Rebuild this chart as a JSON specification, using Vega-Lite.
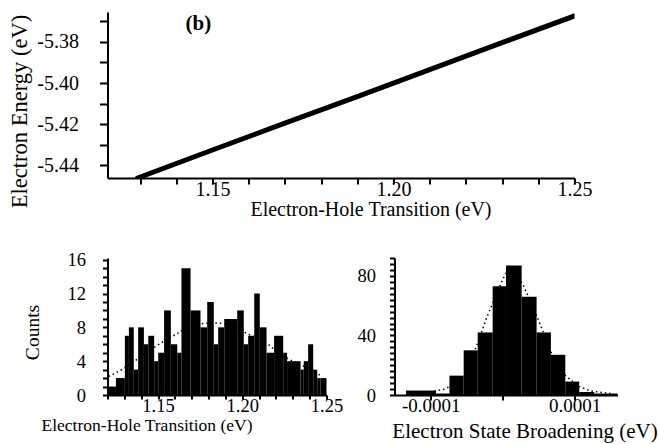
{
  "$schema": "https://vega.github.io/schema/vega-lite/v6.json",
  "background": "white",
  "padding": {"left": 8.5, "top": 11, "right": 16, "bottom": 3},
  "config": {
    "view": {"stroke": null},
    "font": "Liberation Serif",
    "axis": {
      "domainColor": "black", "domainWidth": 2,
      "ticks": true, "tickColor": "black", "tickWidth": 2, "tickOpacity": 1,
      "labelColor": "black", "labelFont": "Liberation Serif", "titleFont": "Liberation Serif",
      "titleFontWeight": "normal", "titleColor": "black", "grid": false, "tickCount": 100,
      "labelOverlap": false, "labelFlush": false, "labelBound": false
    }
  },
  "bounds": "flush",
  "spacing": 80,
  "vconcat": [
    {
      "width": 467,
      "height": 166,
      "layer": [
        {
          "data": {"values": [
            {"transition": 1.1293, "energy": -5.4461},
            {"transition": 1.15, "energy": -5.4325},
            {"transition": 1.17, "energy": -5.4195},
            {"transition": 1.19, "energy": -5.4066},
            {"transition": 1.21, "energy": -5.3935},
            {"transition": 1.23, "energy": -5.3804},
            {"transition": 1.25, "energy": -5.3674}
          ]},
          "mark": {"type": "line", "color": "black", "strokeWidth": 5, "strokeCap": "round", "clip": true},
          "encoding": {
            "x": {
              "field": "transition", "type": "quantitative",
              "scale": {"domain": [1.121, 1.25], "nice": false, "zero": false},
              "axis": {
                "title": "Electron-Hole Transition (eV)",
                "values": [1.13, 1.14, 1.15, 1.16, 1.17, 1.18, 1.19, 1.2, 1.21, 1.22, 1.23, 1.24, 1.25],
                "labelExpr": "round(datum.value*100) % 5 == 0 ? format(datum.value,'.2f') : ''",
                "tickCount": 100, "labelOverlap": false,
                "ticks": true, "tickColor": "black", "tickWidth": 2, "tickOpacity": 1,
                "tickSize": 6, "labelPadding": -5, "labelFontSize": 20,
                "titleFontSize": 20, "titlePadding": 0.5, "titleX": 263
              }
            },
            "y": {
              "field": "energy", "type": "quantitative",
              "scale": {"domain": [-5.4461, -5.3655], "nice": false, "zero": false},
              "axis": {
                "title": "Electron Energy (eV)",
                "values": [-5.44, -5.43, -5.42, -5.41, -5.4, -5.39, -5.38, -5.37],
                "labelExpr": "abs(round(datum.value*100)) % 2 == 0 ? replace(format(datum.value,'.2f'),'\u2212','-') : ''",
                "tickCount": 100, "labelOverlap": false,
                "ticks": true, "tickColor": "black", "tickWidth": 2, "tickOpacity": 1,
                "tickSize": 8, "labelPadding": 21, "labelFontSize": 20,
                "titleFontSize": 22.5, "titlePadding": 5, "titleY": 99
              }
            }
          }
        },
        {
          "data": {"values": [{"transition": 1.1461, "energy": -5.3713, "label": "(b)"}]},
          "mark": {"type": "text", "font": "Liberation Serif", "fontWeight": "bold", "fontSize": 21, "color": "black", "align": "center", "baseline": "middle"},
          "encoding": {
            "x": {"field": "transition", "type": "quantitative"},
            "y": {"field": "energy", "type": "quantitative"},
            "text": {"field": "label"}
          }
        }
      ]
    },
    {
      "bounds": "flush",
      "spacing": 68,
      "hconcat": [
        {
          "width": 219,
          "height": 137,
          "layer": [
            {
              "data": {"values": [
                {"x0": 1.1204, "x1": 1.1250, "count": 1},
                {"x0": 1.1250, "x1": 1.1303, "count": 2},
                {"x0": 1.1303, "x1": 1.1327, "count": 7},
                {"x0": 1.1327, "x1": 1.1356, "count": 8},
                {"x0": 1.1356, "x1": 1.1382, "count": 3},
                {"x0": 1.1382, "x1": 1.1416, "count": 8},
                {"x0": 1.1416, "x1": 1.1442, "count": 6},
                {"x0": 1.1442, "x1": 1.1477, "count": 7},
                {"x0": 1.1477, "x1": 1.1501, "count": 4},
                {"x0": 1.1501, "x1": 1.1536, "count": 5},
                {"x0": 1.1536, "x1": 1.1576, "count": 10},
                {"x0": 1.1576, "x1": 1.1614, "count": 6},
                {"x0": 1.1614, "x1": 1.1639, "count": 5},
                {"x0": 1.1639, "x1": 1.1693, "count": 15},
                {"x0": 1.1693, "x1": 1.1752, "count": 10},
                {"x0": 1.1752, "x1": 1.1792, "count": 8},
                {"x0": 1.1792, "x1": 1.1831, "count": 11},
                {"x0": 1.1831, "x1": 1.1857, "count": 6},
                {"x0": 1.1857, "x1": 1.1893, "count": 8},
                {"x0": 1.1893, "x1": 1.1970, "count": 9},
                {"x0": 1.1970, "x1": 1.2009, "count": 10},
                {"x0": 1.2009, "x1": 1.2035, "count": 6},
                {"x0": 1.2035, "x1": 1.2071, "count": 7},
                {"x0": 1.2071, "x1": 1.2104, "count": 12},
                {"x0": 1.2104, "x1": 1.2144, "count": 8},
                {"x0": 1.2144, "x1": 1.2189, "count": 5},
                {"x0": 1.2189, "x1": 1.2243, "count": 7},
                {"x0": 1.2243, "x1": 1.2266, "count": 5},
                {"x0": 1.2266, "x1": 1.2346, "count": 4},
                {"x0": 1.2346, "x1": 1.2365, "count": 3},
                {"x0": 1.2365, "x1": 1.2391, "count": 4},
                {"x0": 1.2391, "x1": 1.2421, "count": 6},
                {"x0": 1.2421, "x1": 1.2445, "count": 3},
                {"x0": 1.2445, "x1": 1.2464, "count": 2},
                {"x0": 1.2464, "x1": 1.2500, "count": 2}
              ]},
              "mark": {"type": "rect", "color": "black"},
              "encoding": {
                "x": {
                  "field": "x0", "type": "quantitative",
                  "scale": {"domain": [1.12, 1.25], "nice": false, "zero": false},
                  "axis": {
                    "title": "Electron-Hole Transition (eV)",
                    "values": [1.12, 1.13, 1.14, 1.15, 1.16, 1.17, 1.18, 1.19, 1.2, 1.21, 1.22, 1.23, 1.24, 1.25],
                    "labelExpr": "round(datum.value*100) % 5 == 0 && round(datum.value*100) > 114 ? format(datum.value,'.2f') : ''",
                    "tickCount": 100, "labelOverlap": false,
                    "ticks": true, "tickColor": "black", "tickWidth": 2, "tickOpacity": 1,
                    "tickSize": 4, "labelPadding": -2.5, "labelFontSize": 18.5,
                    "titleFontSize": 17.5, "titlePadding": 1, "titleX": 39
                  }
                },
                "x2": {"field": "x1"},
                "y": {
                  "field": "count", "type": "quantitative",
                  "scale": {"domain": [0, 16.2], "nice": false, "zero": false},
                  "axis": {
                    "title": "Counts",
                    "values": [0, 1, 2, 3, 4, 5, 6, 7, 8, 9, 10, 11, 12, 13, 14, 15, 16],
                    "labelExpr": "datum.value % 4 == 0 ? format(datum.value, 'd') : ''",
                    "tickCount": 100, "labelOverlap": false,
                    "ticks": true, "tickColor": "black", "tickWidth": 2, "tickOpacity": 1,
                    "tickSize": 5, "labelPadding": 17, "labelFontSize": 18.5,
                    "titleFontSize": 19.5, "titlePadding": 25, "titleY": 74
                  }
                },
                "y2": {"datum": 0}
              }
            },
            {
              "data": {"values": [
                {"x0": 1.1207, "count": 2.2},
                {"x0": 1.1293, "count": 3.1},
                {"x0": 1.1353, "count": 3.9},
                {"x0": 1.1490, "count": 5.8},
                {"x0": 1.1617, "count": 7.3},
                {"x0": 1.1706, "count": 8.3},
                {"x0": 1.1838, "count": 8.5},
                {"x0": 1.1936, "count": 8.3},
                {"x0": 1.2015, "count": 7.4},
                {"x0": 1.2154, "count": 6.0},
                {"x0": 1.2183, "count": 5.5},
                {"x0": 1.2270, "count": 4.3},
                {"x0": 1.2345, "count": 3.6},
                {"x0": 1.2442, "count": 2.6},
                {"x0": 1.2470, "count": 2.2}
              ]},
              "mark": {"type": "line", "color": "black", "strokeWidth": 1.5, "strokeDash": [1.5, 3], "interpolate": "monotone"},
              "encoding": {
                "x": {"field": "x0", "type": "quantitative"},
                "y": {"field": "count", "type": "quantitative"}
              }
            }
          ]
        },
        {
          "width": 223,
          "height": 137,
          "layer": [
            {
              "data": {"values": [
                {"b0": -0.0001343, "b1": -0.0000926, "n": 3},
                {"b0": -0.0000926, "b1": -0.0000740, "n": 1},
                {"b0": -0.0000740, "b1": -0.0000542, "n": 13},
                {"b0": -0.0000542, "b1": -0.0000347, "n": 30},
                {"b0": -0.0000347, "b1": -0.0000139, "n": 42},
                {"b0": -0.0000139, "b1": 0.0000046, "n": 73},
                {"b0": 0.0000046, "b1": 0.0000264, "n": 87},
                {"b0": 0.0000264, "b1": 0.0000472, "n": 66},
                {"b0": 0.0000472, "b1": 0.0000671, "n": 42},
                {"b0": 0.0000671, "b1": 0.0000871, "n": 27},
                {"b0": 0.0000871, "b1": 0.0001065, "n": 9},
                {"b0": 0.0001065, "b1": 0.0001274, "n": 2},
                {"b0": 0.0001274, "b1": 0.0001597, "n": 1}
              ]},
              "mark": {"type": "rect", "color": "black"},
              "encoding": {
                "x": {
                  "field": "b0", "type": "quantitative",
                  "scale": {"domain": [-0.0001504, 0.0001597], "nice": false, "zero": false},
                  "axis": {
                    "title": "Electron State Broadening (eV)",
                    "values": [-0.0001, 0, 0.0001],
                    "labelExpr": "datum.value == 0 ? '' : replace(format(datum.value,'.4f'),'\u2212','-')",
                    "tickCount": 100, "labelOverlap": false,
                    "ticks": true, "tickColor": "black", "tickWidth": 2, "tickOpacity": 1,
                    "tickSize": 5, "labelPadding": -3.5, "labelFontSize": 19,
                    "titleFontSize": 21, "titlePadding": 5, "titleX": 130
                  }
                },
                "x2": {"field": "b1"},
                "y": {
                  "field": "n", "type": "quantitative",
                  "scale": {"domain": [0, 92], "nice": false, "zero": false},
                  "axis": {
                    "title": null,
                    "values": [0, 4, 8, 12, 16, 20, 24, 28, 32, 36, 40, 44, 48, 52, 56, 60, 64, 68, 72, 76, 80, 84, 88, 92],
                    "labelExpr": "datum.value % 40 == 0 ? format(datum.value, 'd') : ''",
                    "tickCount": 100, "labelOverlap": false,
                    "ticks": true, "tickColor": "black", "tickWidth": 2, "tickOpacity": 1,
                    "tickSize": 5, "labelPadding": 14, "labelFontSize": 18.5
                  }
                },
                "y2": {"datum": 0}
              }
            },
            {
              "data": {"values": [
                {"b0": -0.000120, "n": 1},
                {"b0": -0.000095, "n": 2.5},
                {"b0": -0.000080, "n": 4},
                {"b0": -0.000066, "n": 8},
                {"b0": -0.000053, "n": 13.5},
                {"b0": -0.000037, "n": 32},
                {"b0": -0.000030, "n": 41.5},
                {"b0": -0.000023, "n": 51},
                {"b0": -0.000011, "n": 65},
                {"b0": 0.000000, "n": 77.5},
                {"b0": 0.000009, "n": 86},
                {"b0": 0.000028, "n": 74.5},
                {"b0": 0.000044, "n": 57},
                {"b0": 0.000053, "n": 46.5},
                {"b0": 0.000067, "n": 29},
                {"b0": 0.000088, "n": 12.6},
                {"b0": 0.000106, "n": 5.8},
                {"b0": 0.000122, "n": 2.7},
                {"b0": 0.000150, "n": 1}
              ]},
              "mark": {"type": "line", "color": "black", "strokeWidth": 1.5, "strokeDash": [1.5, 3]},
              "encoding": {
                "x": {"field": "b0", "type": "quantitative"},
                "y": {"field": "n", "type": "quantitative"}
              }
            }
          ]
        }
      ]
    }
  ]
}
